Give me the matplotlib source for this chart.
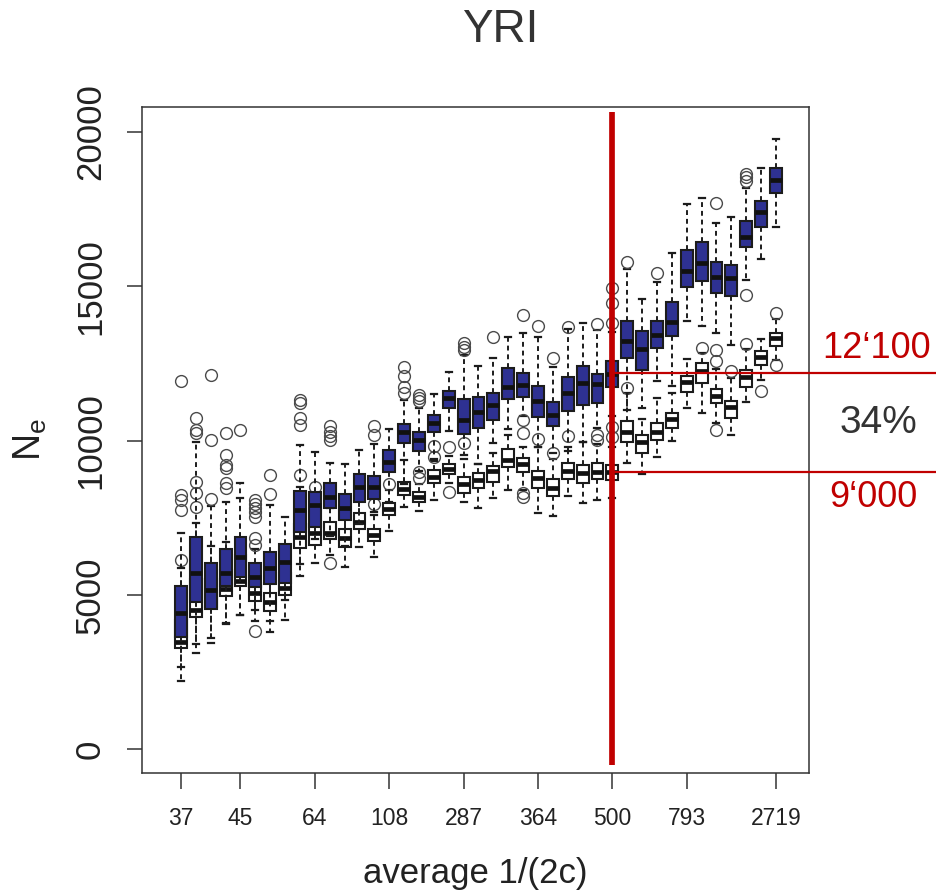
import matplotlib
matplotlib.use("Agg")
import matplotlib.pyplot as plt

plt.rcParams['font.family'] = ['Liberation Sans', 'DejaVu Sans']
plt.rcParams['mathtext.fontset'] = 'custom'
plt.rcParams['mathtext.rm'] = 'Liberation Sans'

# ---------------- data ----------------
tick_positions = [1, 5, 10, 15, 20, 25, 30, 35, 41]
tick_labels = ["37", "45", "64", "108", "287", "364", "500", "793", "2719"]
n_groups = 41

blue_lo  = [2650, 3400, 3600, 4100, 4350, 4510, 4170, 4830, 6000, 6800, 6900, 6600, 7300, 7600, 8000, 8600, 9000, 9400, 10320, 9530, 9240,
            9910, 10360, 10800, 9800, 9600, 9670, 9960, 10400, 10800, 11000, 11040, 11940, 11770, 13870, 13710, 13470, 13090, 15200, 15870, 16920]
blue_q1  = [3650, 4780, 4530, 5290, 5570, 5270, 5350, 5370, 7050, 7210, 7830, 7430, 8010, 8090, 8990, 9910, 9670, 10290, 11040, 10210, 10390,
            10680, 11330, 11400, 10750, 10470, 10970, 11150, 11220, 11740, 12660, 12280, 13010, 13380, 14980, 15180, 14790, 14680, 16280, 16900, 18000]
blue_med = [4400, 5720, 5160, 5700, 6220, 5590, 5860, 6080, 7750, 7910, 8180, 7800, 8480, 8480, 9310, 10290, 10020, 10560, 11370, 10680, 10930,
            11150, 11720, 11800, 11290, 10830, 11530, 11850, 11830, 12170, 13230, 12950, 13420, 13850, 15500, 15760, 15300, 15250, 16600, 17410, 18430]
blue_q3  = [5290, 6890, 6040, 6490, 6860, 6040, 6400, 6640, 8370, 8320, 8610, 8260, 8910, 8850, 9690, 10530, 10290, 10830, 11610, 11330, 11400,
            11550, 12340, 12200, 11760, 11260, 12070, 12410, 12170, 12580, 13880, 13550, 13880, 14500, 16170, 16440, 15790, 15680, 17110, 17770, 18810]
blue_hi  = [7010, 9960, 7890, 8020, 8630, 6480, 7910, 7530, 9850, 9640, 9280, 9240, 9690, 9900, 10370, 11300, 11040, 11510, 12230, 12770, 12410,
            12660, 13340, 13490, 13340, 12370, 13600, 13810, 13580, 13500, 15540, 14570, 15120, 16060, 17660, 17840, 17030, 17250, 18170, 18810, 19750]
blue_out = [[11930, 8230, 8070, 7750], [10720, 10340, 10230], [12120, 10020, 8090], [10230, 9530, 9200, 9100, 8630, 8450],
            [10340], [8070, 7950, 7830, 7700, 7530, 6830, 6620], [8880, 8270], [], [11310, 11200, 10720, 10500], [],
            [10470, 10290, 10150, 10020], [], [], [10470, 10180], [], [12370, 12100, 11720, 11530], [11470, 11370, 11290],
            [], [], [13150, 13040, 12930], [], [13340], [], [14060, 10660], [13710], [12660], [13690], [], [13770],
            [14930, 14440, 13820], [15790], [], [15430], [], [], [], [17680], [], [18630, 18520, 18410, 14710], [], []]

white_lo  = [2200, 3130, 3430, 4060, 4350, 4170, 3810, 4190, 5610, 6040, 6300, 5910, 6560, 6220, 7080, 7860, 7730, 8070, 8610, 8020, 7800,
             8130, 8400, 8400, 7640, 7550, 8200, 7990, 8070, 8130, 9280, 8920, 9460, 9990, 11040, 10880, 10560, 10180, 11260, 11960, 12600]
white_q1  = [3270, 4300, 4600, 4960, 5290, 4810, 4490, 5000, 6510, 6620, 6800, 6540, 7120, 6760, 7590, 8240, 8020, 8610, 8910, 8290, 8450,
             8670, 9130, 8990, 8450, 8200, 8740, 8610, 8740, 8720, 9960, 9580, 10020, 10390, 11580, 11850, 11200, 10740, 11740, 12440, 13060]
white_med = [3480, 4510, 5000, 5200, 5450, 5050, 4780, 5210, 6890, 6990, 6990, 6830, 7370, 6940, 7770, 8420, 8160, 8830, 9080, 8590, 8720,
             9020, 9370, 9240, 8770, 8450, 9020, 8960, 8990, 8990, 10290, 9960, 10290, 10690, 11910, 12260, 11440, 11100, 12050, 12710, 13310]
white_q3  = [4200, 5500, 5500, 5800, 6300, 5400, 5050, 5700, 7300, 7300, 7370, 7120, 7660, 7120, 7990, 8670, 8340, 9040, 9240, 8810, 8960,
             9170, 9710, 9420, 9020, 8750, 9280, 9210, 9260, 9210, 10630, 10180, 10560, 10900, 12090, 12500, 11660, 11280, 12280, 12910, 13490]
white_hi  = [5870, 7340, 6600, 6700, 8140, 5900, 5800, 6200, 8500, 8200, 7800, 7700, 8300, 7700, 8400, 9370, 8600, 9350, 9500, 9400, 9240,
             9580, 10180, 9800, 9800, 9400, 9800, 9960, 9900, 9800, 11550, 10700, 11370, 11550, 12630, 12850, 12300, 12010, 12950, 13280, 13920]
white_out = [[6130], [8670, 8310, 7860], [], [], [], [3840], [], [], [8880], [8500], [6040], [], [], [7940], [8590], [],
             [8990, 8770], [9820, 9480], [9800, 8340], [9930], [], [], [], [10230, 8290, 8180], [10040], [9610], [10150], [],
             [10180, 10020], [10450, 10100], [11690], [], [], [], [], [13000], [12930, 12580, 10340], [12260], [13120], [11610],
             [14120, 12440]]

cut_position = 30
ref_high = 12190
ref_low = 8970
ref_high_label = "12\u2018100"
ref_low_label = "9\u2018000"
ratio_label = "34%"


def make_stats(lo, q1, med, q3, hi, out):
    return [dict(whislo=a, q1=b, med=c, q3=d, whishi=e, fliers=f)
            for a, b, c, d, e, f in zip(lo, q1, med, q3, hi, out)]


W, H = 937, 893
fig = plt.figure(figsize=(W / 100, H / 100), dpi=100)
ax = fig.add_axes([141.7 / W, 1 - 773 / H, (808.7 - 141.7) / W, (773 - 106.7) / H])

positions = list(range(1, n_groups + 1))
edge = '#1c1c1c'
common = dict(positions=positions, widths=0.8, patch_artist=True, manage_ticks=False,
              capwidths=0.4,
              whiskerprops=dict(color=edge, linewidth=1.4, linestyle=(0, (2.5, 2.0))),
              capprops=dict(color=edge, linewidth=1.6),
              medianprops=dict(color='#111111', linewidth=3.4, solid_capstyle='butt'),
              flierprops=dict(marker='o', markersize=8.5, markerfacecolor='none',
                              markeredgecolor='#4a4a4a', markeredgewidth=1.0, linestyle='none'))

ax.bxp(make_stats(white_lo, white_q1, white_med, white_q3, white_hi, white_out),
       boxprops=dict(facecolor='white', edgecolor=edge, linewidth=1.5), zorder=2, **common)
ax.bxp(make_stats(blue_lo, blue_q1, blue_med, blue_q3, blue_hi, blue_out),
       boxprops=dict(facecolor='#2E3192', edgecolor=edge, linewidth=1.5), zorder=3, **common)

ax.set_xlim(-1.64, 43.2)
ax.set_ylim(-767, 20810)

red = '#C00000'
ax.plot([cut_position, cut_position], [-510, 20640], color=red, linewidth=4.1,
        solid_capstyle='butt', zorder=10)
for yv in (ref_high, ref_low):
    ax.plot([cut_position, 52], [yv, yv], color=red, linewidth=1.6, clip_on=False, zorder=10)

ax.set_xticks(tick_positions)
ax.set_xticklabels(tick_labels, fontsize=16.5, color='#222222')
ax.set_yticks([0, 5000, 10000, 15000, 20000])
ax.set_yticklabels(["0", "5000", "10000", "15000", "20000"], rotation=90, va='center',
                   fontsize=25, color='#222222')
ax.tick_params(axis='x', length=11.5, width=1.1, pad=13, color='#333333')
ax.tick_params(axis='y', length=11, width=1.1, pad=14, color='#333333')
for s in ax.spines.values():
    s.set_color('#333333')
    s.set_linewidth(1.1)

fig.text(500 / W, 1 - 30 / H, "YRI", fontsize=33, color='#333333', ha='center', va='center')
fig.text(475 / W, 1 - 873 / H, "average 1/(2c)", fontsize=25, color='#222222', ha='center', va='center')
fig.text(30 / W, 1 - 440 / H, r"$\mathregular{N_e}$", fontsize=27, color='#222222',
         ha='center', va='center', rotation=90)

fig.text(877 / W, 1 - 349 / H, ref_high_label, fontsize=26, color=red, ha='center', va='center')
fig.text(878 / W, 1 - 423 / H, ratio_label, fontsize=28, color='#333333', ha='center', va='center')
fig.text(873 / W, 1 - 497 / H, ref_low_label, fontsize=26, color=red, ha='center', va='center')

fig.savefig("out.png", dpi=100)
